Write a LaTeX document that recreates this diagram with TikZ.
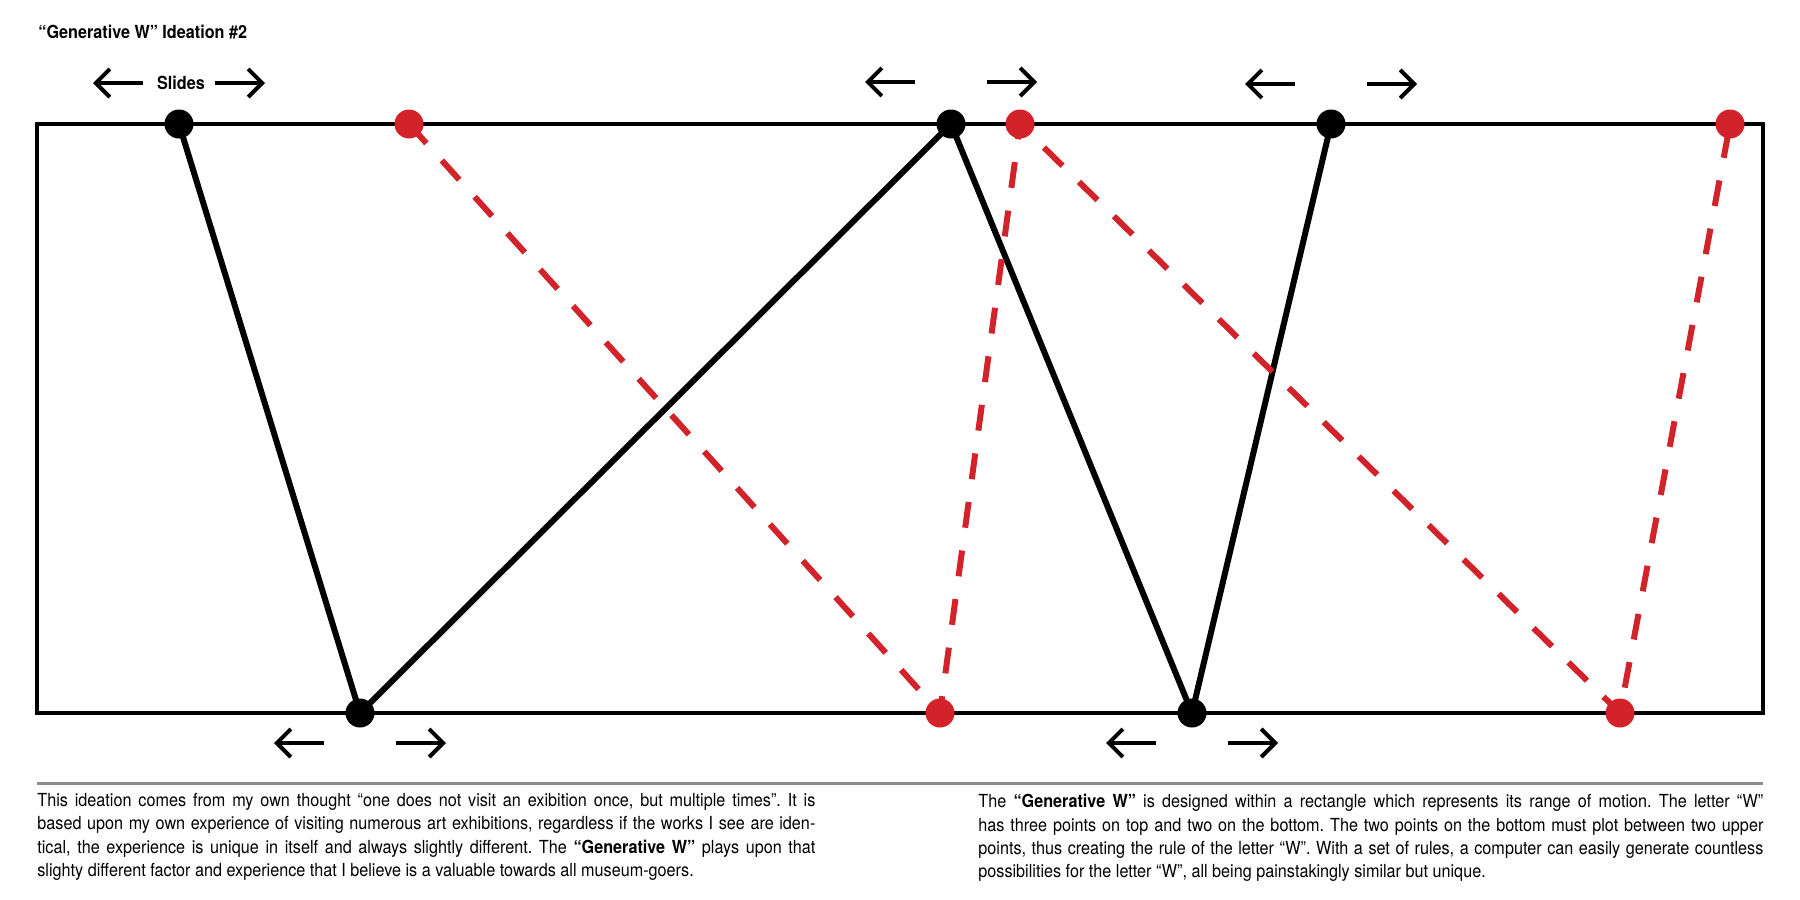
\documentclass[tikz,border=0pt]{standalone}
\usepackage{fontspec}
\setmainfont{TeX Gyre Heros}[FakeStretch=0.9]
\usetikzlibrary{calc,arrows.meta}
\definecolor{wred}{RGB}{210,35,42}
\definecolor{rulegray}{RGB}{140,140,140}
\frenchspacing

\begin{document}
\begin{tikzpicture}[
    x=0.5pt, y=-0.5pt,
    font=\fontsize{9}{11.65}\selectfont,
    % Node styles
    blackdot/.style={circle, fill=black, inner sep=0pt, minimum size=14.5pt},
    reddot/.style={blackdot, fill=wred},
    heading/.style={inner sep=0pt, font=\fontsize{9}{11}\selectfont\bfseries},
    para/.style={anchor=north west, inner sep=0pt, align=justify},
    % Line styles
    boxline/.style={draw, line width=2.2pt},
    wline/.style={line width=3pt, line join=round},
    redline/.style={line width=3pt, draw=wred, dash pattern=on 13pt off 11.5pt},
    slidearrow/.style={-{Straight Barb[length=7pt,width=14pt]}, line width=2pt},
]
    \useasboundingbox (0,0) rectangle (1800,900);

    % Title
    \node[heading, anchor=base west] (title) at (38,38) {“Generative W” Ideation \#2};

    % Range of motion
    \draw[boxline] (37,124) rectangle (1763,713);

    % Points of the W
    \node[blackdot] (t1) at (179,124) {};
    \node[blackdot] (t2) at (951,124) {};
    \node[blackdot] (t3) at (1331,124) {};
    \node[blackdot] (b1) at (360,713) {};
    \node[blackdot] (b2) at (1192,713) {};

    \node[reddot] (rt1) at (409,124) {};
    \node[reddot] (rt2) at (1020,124) {};
    \node[reddot] (rt3) at (1730,124) {};
    \node[reddot] (rb1) at (940,713) {};
    \node[reddot] (rb2) at (1620,713) {};

    % Letters
    \draw[wline] (t1.center) -- (b1.center) -- (t2.center) -- (b2.center) -- (t3.center);
    \draw[redline] (rt1.center) -- (rb1.center) -- (rt2.center) -- (rb2.center) -- (rt3.center);

    % Slides
    \node[heading, anchor=base] (slides) at (181,89) {Slides};
    \foreach \d/\dy in {t1/-41, t2/-42, t3/-40, b1/30, b2/30} {
        \draw[slidearrow] ($(\d)+(-36,\dy)$) -- ++(-50,0);
        \draw[slidearrow] ($(\d)+(36,\dy)$) -- ++(50,0);
    }

    % Notes
    \draw[rulegray, line width=1.5pt] (37,783) -- (1763,783);

    \node[para, text width=389pt] (leftnote) at (37,793) {This ideation comes from my own thought “one does not visit an exibition once, but multiple times”. It is\linebreak
    based upon my own experience of visiting numerous art exhibitions, regardless if the works I see are iden-\linebreak
    tical, the experience is unique in itself and always slightly different. The \textbf{“Generative W”} plays upon that\linebreak
    slighty different factor and experience that I believe is a valuable towards all museum-goers.};

    \node[para, text width=392.5pt] (rightnote) at (978,794) {The \textbf{“Generative W”} is designed within a rectangle which represents its range of motion. The letter “W”\linebreak
    has three points on top and two on the bottom. The two points on the bottom must plot between two upper\linebreak
    points, thus creating the rule of the letter “W”. With a  set of rules, a computer can easily generate countless\linebreak
    possibilities for the letter “W”, all being painstakingly similar but unique.};

\end{tikzpicture}
\end{document}
